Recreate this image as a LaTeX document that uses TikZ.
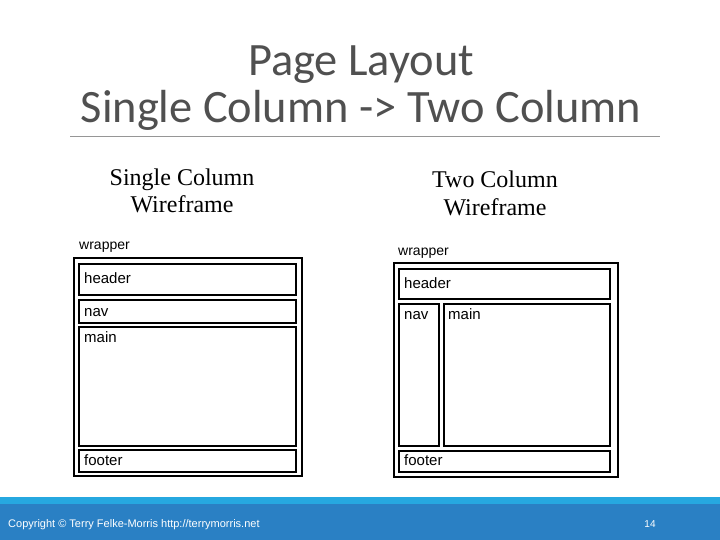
\documentclass[tikz,border=0pt]{standalone}
\usepackage{fontspec}
\setmainfont{Liberation Serif}
\setsansfont{Liberation Sans}
\newfontfamily\titlefont{Carlito}
\definecolor{titlegray}{RGB}{80,80,80}
\definecolor{rulegray}{RGB}{150,150,150}
\definecolor{barlight}{RGB}{38,168,224}
\definecolor{bardark}{RGB}{42,128,196}
\tikzset{
  wbox/.style={draw=black, line width=1.8pt, inner sep=0pt, anchor=north west},
  wlabel/.style={font=\sffamily\fontsize{15}{15}\selectfont, anchor=base west, inner sep=0pt},
  caption/.style={font=\fontsize{24}{28}\selectfont, align=center, inner sep=0pt}
}
\begin{document}
\begin{tikzpicture}[x=1pt, y=-1pt]
    \useasboundingbox (0,0) rectangle (720,540);
    % title
    \node[font=\titlefont\fontsize{46.4}{47}\selectfont, text=titlegray, anchor=base, inner sep=0pt] (ttl) at (361,76) {Page Layout};
    \node[font=\titlefont\fontsize{46.4}{47}\selectfont, text=titlegray, anchor=base, inner sep=0pt] (subttl) at (361,123) {Single Column -> Two Column};
    \draw[rulegray, line width=0.8pt] (70,136) -- (660,136);
    % captions
    \node[caption, anchor=base] (capA) at (182,213) {Single Column\\Wireframe};
    \node[caption, anchor=base] (capB) at (495,215) {Two Column\\Wireframe};
    % single column wireframe
    \node[wlabel, font=\sffamily\fontsize{14}{14}\selectfont] (wrapAtxt) at (79,249) {wrapper};
    \node[wbox, minimum width=228pt, minimum height=218pt] (wrapA) at (73,257) {};
    \node[wbox, minimum width=217pt, minimum height=31pt] (hdrA) at (78,263) {};
    \node[wbox, minimum width=217pt, minimum height=23pt] (navA) at (78,299) {};
    \node[wbox, minimum width=217pt, minimum height=119pt] (mainA) at (78,326) {};
    \node[wbox, minimum width=217pt, minimum height=22pt] (footA) at (78,449) {};
    \node[wlabel] (hdrAtxt) at ([xshift=6pt, yshift=-20pt]hdrA.north west) {header};
    \node[wlabel] (navAtxt) at ([xshift=6pt, yshift=-17pt]navA.north west) {nav};
    \node[wlabel] (mainAtxt) at ([xshift=6pt, yshift=-16pt]mainA.north west) {main};
    \node[wlabel] (footAtxt) at ([xshift=6pt, yshift=-16pt]footA.north west) {footer};
    % two column wireframe
    \node[wlabel, font=\sffamily\fontsize{14}{14}\selectfont] (wrapBtxt) at (398,255) {wrapper};
    \node[wbox, minimum width=224pt, minimum height=214pt] (wrapB) at (393,262) {};
    \node[wbox, minimum width=211pt, minimum height=30pt] (hdrB) at (398,268) {};
    \node[wbox, minimum width=40pt, minimum height=142pt] (navB) at (398,303) {};
    \node[wbox, minimum width=166pt, minimum height=142pt] (mainB) at (443,303) {};
    \node[wbox, minimum width=211pt, minimum height=21pt] (footB) at (398,450) {};
    \node[wlabel] (hdrBtxt) at ([xshift=6pt, yshift=-20pt]hdrB.north west) {header};
    \node[wlabel] (navBtxt) at ([xshift=6pt, yshift=-16pt]navB.north west) {nav};
    \node[wlabel] (mainBtxt) at ([xshift=5pt, yshift=-16pt]mainB.north west) {main};
    \node[wlabel] (footBtxt) at ([xshift=6pt, yshift=-15pt]footB.north west) {footer};
    % footer bar
    \fill[barlight] (0,497) rectangle (720,504);
    \fill[bardark] (0,504) rectangle (720,540);
    \node[font=\sffamily\fontsize{11}{11}\selectfont, text=white, anchor=base west, inner sep=0pt] (copy) at (8,527) {Copyright © Terry Felke-Morris http://terrymorris.net};
    \node[font=\sffamily\fontsize{10}{10}\selectfont, text=white, anchor=base, inner sep=0pt] (pgno) at (650,527) {14};
\end{tikzpicture}
\end{document}
